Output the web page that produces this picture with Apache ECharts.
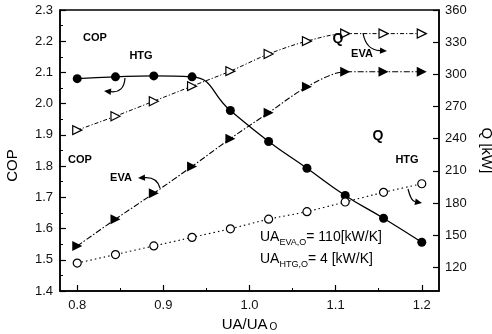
<!DOCTYPE html>
<html><head><meta charset="utf-8">
<script src="https://cdn.jsdelivr.net/npm/echarts@6/dist/echarts.min.js"></script>
<style>html,body{margin:0;padding:0;background:#fff}#c{width:492px;height:334px}</style>
</head><body><div id="c"></div>
<script>
// ---- data ----
const uaRatio = [0.8, 0.8444, 0.8889, 0.9333, 0.9778, 1.0222, 1.0667, 1.1111, 1.1556, 1.2];
const copHtg = [2.080, 2.086, 2.089, 2.086, 1.978, 1.879, 1.793, 1.706, 1.633, 1.556];
const copEva = [1.544, 1.630, 1.713, 1.799, 1.888, 1.971, 2.054, 2.102, 2.102, 2.102];
const qEva = [248, 261, 275, 289, 303, 319, 331, 338, 338, 338];
const qHtg = [124, 132, 140, 148, 156, 165, 172, 181, 190, 198];
const xTickValues = [0.8, 0.9, 1.0, 1.1, 1.2];
const xMinorValues = [0.85, 0.95, 1.05, 1.15];
const qTickValues = [120, 150, 180, 210, 240, 270, 300, 330, 360];

const FONT = "'Liberation Sans', Arial, sans-serif";
const pairs = (ys) => uaRatio.map((x, i) => [x, ys[i]]);

function arrow(x1, y1, cx, cy, x2, y2) {
  const ang = Math.atan2(y2 - cy, x2 - cx), L = 7, W = 3.2;
  const bx = x2 - L * Math.cos(ang), by = y2 - L * Math.sin(ang);
  const px = -Math.sin(ang) * W, py = Math.cos(ang) * W;
  return [
    {type: 'bezierCurve', shape: {x1, y1, x2: bx, y2: by, cpx1: cx, cpy1: cy},
     style: {stroke: '#000', lineWidth: 1.2, fill: 'none'}, z: 100},
    {type: 'polygon', shape: {points: [[x2, y2], [bx + px, by + py], [bx - px, by - py]]},
     style: {fill: '#000'}, z: 100}
  ];
}
function label(text, x, y, size) {
  return {type: 'text', x, y, z: 100,
    style: {text, font: `bold ${size || 11}px ${FONT}`, fill: '#000', textAlign: 'center', textVerticalAlign: 'middle'}};
}
const uaRich = {
  m: {fontSize: 14, fontFamily: FONT, color: '#000', verticalAlign: 'bottom', padding: [0, 0, 3, 0]},
  s: {fontSize: 9, fontFamily: FONT, color: '#000', verticalAlign: 'bottom'}
};

const chart = echarts.init(document.getElementById('c'));
chart.setOption({
  backgroundColor: '#fff',
  animation: false,
  grid: {left: 60, right: 53, top: 10, bottom: 43, show: true, borderColor: '#000', borderWidth: 1.5,
         containLabel: false, outerBoundsMode: 'none'},
  xAxis: [{
    type: 'value', min: 0.78, max: 1.22,
    name: '{a|UA/UA}{s|O}', nameLocation: 'middle', nameGap: 24,
    nameTextStyle: {rich: {
      a: {fontSize: 15, fontFamily: FONT, color: '#000', verticalAlign: 'bottom'},
      s: {fontSize: 10, fontFamily: FONT, color: '#000', verticalAlign: 'bottom', padding: [0, 0, 0, 2]}}},
    axisLine: {show: true, onZero: false, lineStyle: {color: '#000', width: 1.5}},
    axisTick: {inside: true, length: 6, lineStyle: {color: '#000', width: 1.2}, customValues: xTickValues},
    axisLabel: {customValues: xTickValues, formatter: v => v.toFixed(1), fontSize: 13, fontFamily: FONT, color: '#111', margin: 8},
    splitLine: {show: false}
  }, {
    type: 'value', min: 0.78, max: 1.22, position: 'bottom',
    axisLine: {show: false},
    axisTick: {inside: true, length: 3, lineStyle: {color: '#000', width: 1}, customValues: xMinorValues},
    axisLabel: {show: false, customValues: xMinorValues},
    splitLine: {show: false}
  }],
  yAxis: [{
    type: 'value', min: 1.4, max: 2.3, interval: 0.1, position: 'left',
    name: 'COP', nameLocation: 'middle', nameGap: 40, nameRotate: 90,
    nameTextStyle: {fontSize: 15, fontFamily: FONT, color: '#000', padding: [0, 30, 0, 0]},
    axisLine: {show: true, onZero: false, lineStyle: {color: '#000', width: 1.5}},
    axisTick: {inside: true, length: 6, lineStyle: {color: '#000', width: 1.2}},
    minorTick: {show: true, splitNumber: 2, length: 3, lineStyle: {color: '#000', width: 1}},
    axisLabel: {formatter: v => v.toFixed(1), fontSize: 13, fontFamily: FONT, color: '#111', margin: 7},
    splitLine: {show: false}
  }, {
    type: 'value', min: 98, max: 360, position: 'right',
    name: 'Q [kW]', nameLocation: 'middle', nameGap: 40, nameRotate: -90,
    nameTextStyle: {fontSize: 15, fontFamily: FONT, color: '#000'},
    axisLine: {show: true, onZero: false, lineStyle: {color: '#000', width: 1.5}},
    axisTick: {inside: true, length: 6, lineStyle: {color: '#000', width: 1.2}, customValues: qTickValues},
    axisLabel: {customValues: qTickValues, fontSize: 13, fontFamily: FONT, color: '#111', margin: 6},
    splitLine: {show: false}
  }],
  series: [{
    name: 'COP HTG', type: 'line', yAxisIndex: 0, data: pairs(copHtg), smooth: 0.5,
    symbol: 'circle', symbolSize: 9, itemStyle: {color: '#000'},
    lineStyle: {color: '#000', width: 1.3, type: 'solid'}
  }, {
    name: 'COP EVA', type: 'line', yAxisIndex: 0, data: pairs(copEva), smooth: 0.3,
    symbol: 'triangle', symbolRotate: -90, symbolSize: 10, itemStyle: {color: '#000'},
    lineStyle: {color: '#000', width: 1.1, type: [6, 2, 1.5, 2]}
  }, {
    name: 'Q EVA', type: 'line', yAxisIndex: 1, data: pairs(qEva), smooth: 0.3,
    symbol: 'triangle', symbolRotate: -90, symbolSize: 9,
    itemStyle: {color: '#fff', borderColor: '#000', borderWidth: 1.2},
    lineStyle: {color: '#000', width: 1, type: [4, 2, 1.2, 2]}
  }, {
    name: 'Q HTG', type: 'line', yAxisIndex: 1, data: pairs(qHtg), smooth: 0.2,
    symbol: 'circle', symbolSize: 8,
    itemStyle: {color: '#fff', borderColor: '#000', borderWidth: 1.2},
    lineStyle: {color: '#000', width: 1.1, type: [1.5, 3]}
  }],
  graphic: [
    label('COP', 95, 38), label('HTG', 141, 56),
    label('COP', 80, 160), label('EVA', 121, 178),
    label('Q', 338, 39, 14), label('EVA', 362, 54),
    label('Q', 378, 136, 14), label('HTG', 407, 160),
    {type: 'text', x: 260, y: 247, z: 100,
     style: {text: '{m|UA}{s|EVA,O}{m|= 110[kW/K]}', rich: uaRich, textVerticalAlign: 'bottom'}},
    {type: 'text', x: 260, y: 269, z: 100,
     style: {text: '{m|UA}{s|HTG,O}{m|= 4 [kW/K]}', rich: uaRich, textVerticalAlign: 'bottom'}},
    ...arrow(125, 78, 124, 93, 104, 91),
    ...arrow(160, 188, 157, 177, 138, 178),
    ...arrow(363, 33, 366, 50, 387, 51),
    ...arrow(408, 189, 411, 201, 422, 203)
  ]
});
</script></body></html>
